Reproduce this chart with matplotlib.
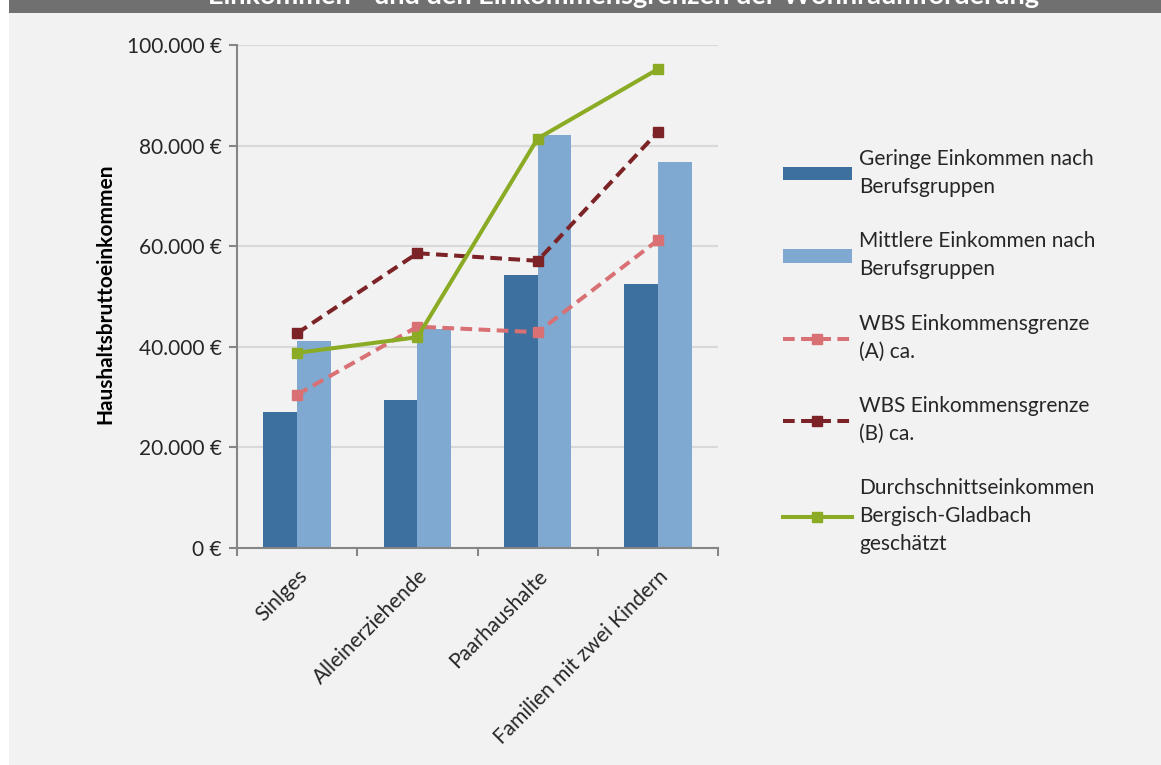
import matplotlib
matplotlib.use("Agg")
import matplotlib.pyplot as plt
import numpy as np
from matplotlib.patches import Rectangle
from matplotlib.ticker import FuncFormatter, FixedLocator

plt.rcParams['font.family'] = ['Lato', 'DejaVu Sans']

categories = ["Sinlges", "Alleinerziehende", "Paarhaushalte", "Familien mit zwei Kindern"]
geringe = [27000, 29400, 54300, 52400]
mittlere = [41200, 43500, 82100, 76700]
wbs_a = [30500, 44000, 42900, 61200]
wbs_b = [42700, 58600, 57100, 82700]
durchschnitt = [38800, 41900, 81400, 95200]

series_labels = [
    "Geringe Einkommen nach\nBerufsgruppen",
    "Mittlere Einkommen nach\nBerufsgruppen",
    "WBS Einkommensgrenze\n(A) ca.",
    "WBS Einkommensgrenze\n(B) ca.",
    "Durchschnittseinkommen\nBergisch-Gladbach\ngeschätzt",
]
title = "Einkommen - und den Einkommensgrenzen der Wohnraumförderung"

W, H = 1161, 765
fig = plt.figure(figsize=(W / 100, H / 100), dpi=100)
fig.patch.set_facecolor("white")

# panel background and header band
fig.add_artist(Rectangle((9 / W, 0), 1 - 9 / W, 1 - 13 / H, transform=fig.transFigure,
                         facecolor="#f2f2f2", edgecolor="none", zorder=-10))
fig.add_artist(Rectangle((9 / W, 1 - 13 / H), 1 - 9 / W, 13 / H, transform=fig.transFigure,
                         facecolor="#707070", edgecolor="none", zorder=-9))
fig.text(623 / W, 1 - 3.5 / H, title, color="white", fontsize=19.5, fontweight="bold",
         ha="center", va="baseline")

ax = fig.add_axes([237 / W, 1 - 548 / H, 481 / W, 503 / H])
ax.set_facecolor("none")

x = np.arange(len(categories))
bw = 0.28
bars_g = ax.bar(x - bw / 2, geringe, width=bw, color="#3d6f9f", zorder=2, label=series_labels[0])
bars_m = ax.bar(x + bw / 2, mittlere, width=bw, color="#7fa9d0", zorder=2, label=series_labels[1])

dash = (0, (2.9, 1.6))
lw, ms = 2.9, 6.5
ln_a, = ax.plot(x, wbs_a, color="#d97073", lw=lw, ls=dash, marker="s", ms=ms,
                zorder=3, label=series_labels[2])
ln_b, = ax.plot(x, wbs_b, color="#7b2326", lw=lw, ls=dash, marker="s", ms=ms,
                zorder=3, label=series_labels[3])
ln_d, = ax.plot(x, durchschnitt, color="#8aab23", lw=lw, marker="s", ms=ms,
                zorder=4, label=series_labels[4])

ax.set_xlim(-0.5, len(categories) - 0.5)
ax.set_ylim(0, 100000)
ax.set_yticks(np.arange(0, 100001, 20000))
ax.yaxis.set_major_formatter(FuncFormatter(lambda v, p: f"{int(v):,}".replace(",", ".") + " €"))
ax.grid(axis="y", color="#d9d9d9", lw=1.5, zorder=0)
ax.set_axisbelow(True)

ax.xaxis.set_major_locator(FixedLocator(np.arange(-0.5, len(categories), 1.0)))
ax.xaxis.set_minor_locator(FixedLocator(x))
ax.set_xticklabels([], minor=False)
ax.set_xticklabels(categories, minor=True, rotation=45, ha="right", rotation_mode="anchor",
                   fontsize=15, color="#262626")
ax.tick_params(axis="x", which="minor", length=0, pad=13)
ax.tick_params(axis="x", which="major", length=6, width=1.5, color="#868686", direction="out")
ax.tick_params(axis="y", length=6, width=1.5, color="#868686", labelsize=15,
               labelcolor="#262626", pad=5)

for s in ["top", "right"]:
    ax.spines[s].set_visible(False)
for s in ["left", "bottom"]:
    ax.spines[s].set_color("#868686")
    ax.spines[s].set_linewidth(1.5)

ax.set_ylabel("Haushaltsbruttoeinkommen", fontsize=15, fontweight="bold", color="black")
ax.yaxis.set_label_coords((115 - 237) / 481, 0.505)

handles = [bars_g, bars_m, ln_a, ln_b, ln_d]
leg = ax.legend(handles, series_labels, loc="upper left",
                bbox_to_anchor=(783 / W, 1 - 149 / H),
                bbox_transform=fig.transFigure, frameon=False, fontsize=15,
                handlelength=3.3, handleheight=0.62, handletextpad=0.35, labelspacing=1.65,
                borderaxespad=0, borderpad=0, numpoints=1)
for t in leg.get_texts():
    t.set_color("#262626")
    t.set_linespacing(1.5)

fig.savefig("out.png", dpi=100, facecolor=fig.get_facecolor())
